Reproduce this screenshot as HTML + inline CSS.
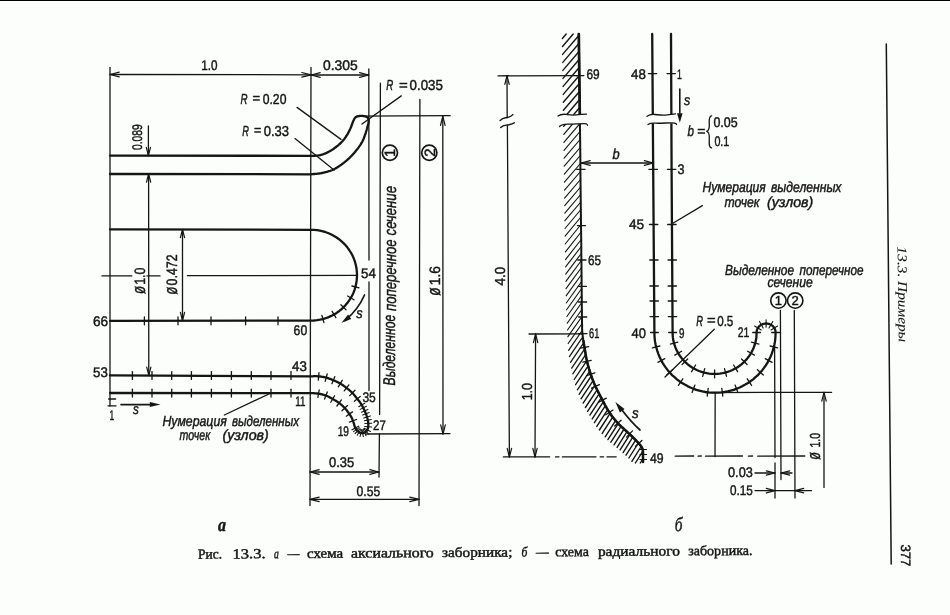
<!DOCTYPE html>
<html lang="ru"><head><meta charset="utf-8"><title>Рис. 13.3</title>
<style>
html,body{margin:0;padding:0;background:#fcfefb;}
body{width:950px;height:615px;overflow:hidden;position:relative;}
#top{position:absolute;left:0;top:0;width:950px;height:1px;background:#000;}
#top2{position:absolute;left:0;top:1px;width:950px;height:1px;background:#fff;}
svg{position:absolute;left:0;top:0;text-rendering:geometricPrecision;will-change:transform;}
svg line,svg path,svg circle{stroke:#151515;fill:none;stroke-linecap:round;stroke-linejoin:round;}
text{fill:#151515;stroke:#151515;stroke-width:0.45px;font-family:"Liberation Sans","DejaVu Sans",sans-serif;}
.i{font-style:italic;}
.bi{font-style:italic;font-weight:bold;}
.s{font-family:"Liberation Serif","DejaVu Serif",serif;}
text.thin{stroke-width:0.1px;}
.sbi{font-family:"Liberation Serif","DejaVu Serif",serif;font-style:italic;font-weight:bold;}
.si{font-family:"Liberation Serif","DejaVu Serif",serif;font-style:italic;}
</style></head><body>
<div id="top"></div><div id="top2"></div>
<svg width="950" height="615" viewBox="0 0 950 615">
<line x1="110" y1="67.5" x2="110" y2="406" stroke-width="1.3"/>
<line x1="311" y1="67.5" x2="310" y2="505.6" stroke-width="1.3"/>
<line x1="368.8" y1="69" x2="369" y2="260" stroke-width="1.3"/>
<line x1="369" y1="282" x2="369" y2="390.5" stroke-width="1.3"/>
<line x1="380.4" y1="83.2" x2="379.6" y2="414.5" stroke-width="1.3"/>
<line x1="379.4" y1="434" x2="379" y2="477" stroke-width="1.3"/>
<line x1="419.9" y1="99.3" x2="419" y2="505.6" stroke-width="1.3"/>
<line x1="442.8" y1="116.2" x2="443" y2="434" stroke-width="1.3"/>
<path d="M445.1 125.4 L442.8 116.2 L440.5 125.4" stroke-width="1.2"/>
<path d="M440.7 424.8 L443 434 L445.3 424.8" stroke-width="1.2"/>
<line x1="357" y1="116.2" x2="450.2" y2="115.7" stroke-width="1.3"/>
<line x1="366" y1="434" x2="450" y2="433.6" stroke-width="1.3"/>
<line x1="110" y1="74.5" x2="311" y2="74.8" stroke-width="1.3"/>
<path d="M119.2 72.2 L110 74.5 L119.2 76.8" stroke-width="1.2"/>
<path d="M301.8 77.1 L311 74.8 L301.8 72.5" stroke-width="1.2"/>
<line x1="311" y1="75" x2="368.8" y2="75" stroke-width="1.3"/>
<path d="M320.2 72.7 L311 75 L320.2 77.3" stroke-width="1.2"/>
<path d="M359.6 77.3 L368.8 75 L359.6 72.7" stroke-width="1.2"/>
<line x1="148.4" y1="126" x2="148.4" y2="155.6" stroke-width="1.3"/>
<path d="M146.3 147.4 L148.4 155.6 L150.5 147.4" stroke-width="1.2"/>
<line x1="148.6" y1="174" x2="148.8" y2="375.4" stroke-width="1.3"/>
<path d="M150.7 182.2 L148.6 174 L146.5 182.2" stroke-width="1.2"/>
<path d="M146.7 367.2 L148.8 375.4 L150.9 367.2" stroke-width="1.2"/>
<line x1="182.5" y1="229.5" x2="182.5" y2="320.6" stroke-width="1.3"/>
<path d="M184.6 237.7 L182.5 229.5 L180.4 237.7" stroke-width="1.2"/>
<path d="M180.4 312.4 L182.5 320.6 L184.6 312.4" stroke-width="1.2"/>
<line x1="102" y1="275.9" x2="131.8" y2="275.9" stroke-width="1.3"/>
<line x1="147" y1="275.9" x2="160" y2="275.9" stroke-width="1.3"/>
<line x1="187.4" y1="275.7" x2="357" y2="275.4" stroke-width="1.3"/>
<line x1="310" y1="472" x2="379" y2="472" stroke-width="1.3"/>
<path d="M319.2 469.7 L310 472 L319.2 474.3" stroke-width="1.2"/>
<path d="M369.8 474.3 L379 472 L369.8 469.7" stroke-width="1.2"/>
<line x1="310" y1="499.4" x2="419" y2="499.4" stroke-width="1.3"/>
<path d="M319.2 497.1 L310 499.4 L319.2 501.7" stroke-width="1.2"/>
<path d="M409.8 501.7 L419 499.4 L409.8 497.1" stroke-width="1.2"/>
<line x1="401.3" y1="95.9" x2="362" y2="124" stroke-width="1.3"/>
<line x1="297" y1="107.4" x2="341" y2="139.4" stroke-width="1.3"/>
<line x1="295" y1="138.6" x2="334" y2="170" stroke-width="1.3"/>
<line x1="224.4" y1="415" x2="271" y2="393" stroke-width="1.3"/>
<path d="M110 155.6 L311 155.8 L311.4 155.8 L311.9 155.8 L312.3 155.8 L312.7 155.8 L313.2 155.8 L313.6 155.8 L314 155.8 L314.5 155.8 L314.9 155.8 L315.3 155.7 L315.8 155.7 L316.2 155.7 L316.7 155.7 L317.1 155.6 L317.6 155.6 L318 155.5 L318.4 155.4 L318.9 155.3 L319.3 155.3 L319.8 155.2 L320.2 155.1 L320.7 155 L321.1 154.9 L321.6 154.7 L322.1 154.6 L322.5 154.5 L323 154.3 L323.5 154.2 L323.9 154 L324.4 153.8 L324.9 153.6 L325.4 153.4 L325.9 153.2 L326.4 152.9 L326.9 152.7 L327.5 152.4 L328 152.1 L328.6 151.8 L329.1 151.5 L329.7 151.2 L330.2 150.9 L330.8 150.6 L331.3 150.3 L331.9 149.9 L332.4 149.6 L333 149.2 L333.5 148.9 L334 148.5 L334.5 148.1 L335 147.7 L335.6 147.4 L336.1 147 L336.6 146.5 L337.1 146.1 L337.7 145.7 L338.2 145.3 L338.7 144.8 L339.2 144.4 L339.7 144 L340.1 143.5 L340.6 143.1 L341.1 142.7 L341.5 142.2 L341.9 141.8 L342.3 141.4 L342.7 141 L343 140.5 L343.4 140.1 L343.7 139.7 L344.1 139.3 L344.4 138.9 L344.7 138.4 L345 138 L345.3 137.6 L345.6 137.2 L345.9 136.7 L346.2 136.3 L346.4 135.9 L346.7 135.4 L347 135 L347.3 134.6 L347.5 134.1 L347.8 133.7 L348 133.2 L348.3 132.8 L348.5 132.3 L348.8 131.9 L349 131.4 L349.2 130.9 L349.5 130.5 L349.7 130 L349.9 129.6 L350.1 129.1 L350.3 128.7 L350.5 128.2 L350.7 127.8 L350.9 127.4 L351.1 126.9 L351.3 126.5 L351.4 126 L351.6 125.5 L351.8 125.1 L351.9 124.6 L352.1 124.2 L352.2 123.7 L352.4 123.3 L352.5 122.9 L352.7 122.5 L352.8 122.1 L353 121.7 L353.1 121.3 L353.3 121 L353.4 120.7 L353.6 120.4 L353.7 120.1 L353.9 119.8 L354 119.5 L354.1 119.3 L354.2 119 L354.4 118.8 L354.5 118.6 L354.6 118.4 L354.8 118.2 L354.9 118 L355.1 117.8 L355.2 117.6 L355.4 117.5 L355.6 117.3 L355.8 117.1 L356 117 L356.2 116.9 L356.4 116.8 L356.7 116.7 L356.9 116.6 L357.2 116.5 L357.4 116.4 L357.7 116.3 L357.9 116.3 L358.2 116.2 L358.5 116.2 L358.7 116.1 L359 116.1 L359.3 116 L359.6 116 L359.9 116 L360.2 115.9 L360.6 115.9 L360.9 115.9 L361.3 115.9 L361.6 115.9 L362 115.9 L362.3 115.9 L362.7 116 L363.1 116 L363.4 116 L363.8 116.1 L364.1 116.1 L364.4 116.2 L364.7 116.2 L365 116.3 L365.3 116.4 L365.5 116.5 L365.8 116.6 L366 116.7 L366.3 116.8 L366.5 116.9 L366.8 117.1 L367 117.2 L367.2 117.3 L367.4 117.5 L367.6 117.7 L367.7 117.8 L367.9 118 L368 118.1 L368.2 118.3 L368.3 118.5 L368.4 118.7 L368.5 118.9 L368.6 119 L368.6 119.2 L368.7 119.4 L368.7 119.6 L368.7 119.8 L368.7 120 L368.7 120.2 L368.7 120.5 L368.7 120.7 L368.7 120.9 L368.7 121.2 L368.7 121.4 L368.6 121.7 L368.6 122 L368.6 122.3 L368.5 122.6 L368.5 122.9 L368.4 123.3 L368.3 123.6 L368.2 123.9 L368.1 124.3 L368.1 124.7 L368 125 L367.9 125.4 L367.8 125.8 L367.6 126.2 L367.5 126.6 L367.4 127 L367.3 127.4 L367.2 127.8 L367.1 128.2 L367 128.6 L366.8 129.1 L366.7 129.5 L366.6 130 L366.5 130.4 L366.3 130.9 L366.2 131.3 L366 131.8 L365.9 132.3 L365.8 132.7 L365.6 133.2 L365.5 133.7 L365.3 134.1 L365.2 134.6 L365 135 L364.8 135.4 L364.7 135.9 L364.5 136.3 L364.4 136.7 L364.2 137.1 L364.1 137.5 L363.9 138 L363.8 138.4 L363.6 138.8 L363.5 139.2 L363.3 139.6 L363.1 140 L362.9 140.5 L362.7 140.9 L362.4 141.4 L362.2 141.8 L361.9 142.3 L361.7 142.7 L361.4 143.2 L361.1 143.7 L360.8 144.2 L360.5 144.6 L360.2 145.1 L359.8 145.6 L359.5 146.1 L359.1 146.6 L358.8 147.1 L358.4 147.6 L358.1 148.1 L357.7 148.6 L357.4 149 L357 149.5 L356.6 150 L356.3 150.4 L355.9 150.9 L355.5 151.3 L355.2 151.8 L354.8 152.2 L354.4 152.7 L354 153.1 L353.6 153.6 L353.2 154 L352.8 154.5 L352.4 154.9 L352 155.4 L351.6 155.8 L351.1 156.3 L350.7 156.7 L350.2 157.1 L349.8 157.6 L349.3 158.1 L348.8 158.5 L348.3 159 L347.8 159.4 L347.3 159.9 L346.8 160.3 L346.3 160.8 L345.8 161.2 L345.2 161.7 L344.7 162.1 L344.1 162.5 L343.6 163 L343.1 163.4 L342.5 163.8 L341.9 164.2 L341.4 164.6 L340.8 165 L340.3 165.4 L339.7 165.8 L339.1 166.2 L338.5 166.6 L337.9 167 L337.3 167.4 L336.7 167.7 L336.1 168.1 L335.5 168.4 L334.9 168.8 L334.3 169.1 L333.6 169.4 L333 169.7 L332.4 170 L331.7 170.3 L331 170.5 L330.4 170.8 L329.7 171 L329 171.2 L328.3 171.4 L327.6 171.6 L326.9 171.8 L326.2 172 L325.5 172.2 L324.8 172.4 L324.1 172.5 L323.4 172.7 L322.7 172.9 L322 173 L321.3 173.1 L320.6 173.3 L319.9 173.4 L319.2 173.5 L318.6 173.6 L317.9 173.6 L317.2 173.7 L316.5 173.8 L315.8 173.8 L315.1 173.9 L314.4 174 L313.8 174 L313.1 174.1 L312.4 174.2 L311.7 174.2 L311 174.3 L110 174" stroke-width="2.3"/>
<path d="M110 229.3 L311 229.8 L314 229.9 L317 230.2 L320 230.7 L322.9 231.3 L325.8 232.2 L328.6 233.3 L331.3 234.5 L334 235.9 L336.6 237.5 L339 239.2 L341.3 241.1 L343.5 243.1 L345.6 245.3 L347.5 247.6 L349.2 250 L350.8 252.5 L352.3 255.1 L353.5 257.8 L354.6 260.6 L355.4 263.4 L356.1 266.3 L356.6 269.3 L356.9 272.2 L357 275.2 L356.9 278.2 L356.6 281.1 L356.1 284.1 L355.4 287 L354.6 289.8 L353.5 292.6 L352.3 295.3 L350.8 297.9 L349.2 300.4 L347.5 302.8 L345.6 305.1 L343.5 307.3 L341.3 309.3 L339 311.2 L336.6 312.9 L334 314.5 L331.3 315.9 L328.6 317.1 L325.8 318.2 L322.9 319.1 L320 319.7 L317 320.2 L314 320.5 L311 320.6 L110 320.8" stroke-width="2.3"/>
<line x1="144.4" y1="316.9" x2="144.4" y2="324.8" stroke-width="1.3"/>
<line x1="178" y1="316.9" x2="178" y2="324.8" stroke-width="1.3"/>
<line x1="211" y1="316.9" x2="211" y2="324.8" stroke-width="1.3"/>
<line x1="245.6" y1="316.9" x2="245.6" y2="324.8" stroke-width="1.3"/>
<line x1="278" y1="316.9" x2="278" y2="324.8" stroke-width="1.3"/>
<line x1="321.9" y1="315.5" x2="323.9" y2="322.6" stroke-width="1.3"/>
<line x1="332.1" y1="311.3" x2="335.9" y2="317.7" stroke-width="1.3"/>
<line x1="340.9" y1="304.7" x2="346.1" y2="309.9" stroke-width="1.3"/>
<line x1="347.6" y1="296" x2="354" y2="299.8" stroke-width="1.3"/>
<line x1="351.9" y1="286" x2="359" y2="287.9" stroke-width="1.3"/>
<path d="M364.5 295 Q358 310 345 320.5" stroke-width="1.7"/>
<polygon points="341.6,322.8 348.1,314.5 351.3,318.9" fill="#151515" stroke="none"/>
<path d="M110 375.4 L311 376.3 L311.4 376.3 L311.9 376.3 L312.3 376.3 L312.7 376.3 L313.2 376.3 L313.6 376.2 L314 376.2 L314.4 376.2 L314.9 376.2 L315.3 376.2 L315.7 376.2 L316.2 376.2 L316.6 376.2 L317.1 376.2 L317.5 376.3 L318 376.3 L318.5 376.3 L318.9 376.4 L319.4 376.4 L319.9 376.5 L320.4 376.5 L320.9 376.6 L321.4 376.7 L321.9 376.8 L322.4 376.8 L322.9 376.9 L323.4 377 L323.9 377.1 L324.5 377.2 L325 377.3 L325.5 377.5 L326 377.6 L326.5 377.7 L327.1 377.9 L327.6 378.1 L328.1 378.2 L328.7 378.4 L329.2 378.6 L329.8 378.8 L330.3 379 L330.9 379.2 L331.4 379.4 L332 379.7 L332.5 379.9 L333 380.1 L333.5 380.3 L334 380.5 L334.5 380.7 L335 380.9 L335.4 381.1 L335.8 381.3 L336.3 381.5 L336.7 381.7 L337.1 381.9 L337.5 382.1 L337.9 382.3 L338.3 382.5 L338.7 382.7 L339.1 382.9 L339.5 383.1 L339.8 383.3 L340.2 383.5 L340.6 383.8 L341 384 L341.4 384.2 L341.8 384.5 L342.2 384.7 L342.5 385 L342.9 385.3 L343.3 385.5 L343.7 385.8 L344.1 386.1 L344.4 386.3 L344.8 386.6 L345.2 386.9 L345.5 387.2 L345.9 387.5 L346.3 387.7 L346.6 388 L347 388.3 L347.4 388.6 L347.7 388.9 L348.1 389.2 L348.4 389.4 L348.8 389.7 L349.2 390 L349.5 390.3 L349.9 390.6 L350.2 390.9 L350.6 391.2 L350.9 391.5 L351.2 391.8 L351.6 392.1 L351.9 392.4 L352.2 392.7 L352.5 393 L352.8 393.3 L353.1 393.6 L353.4 393.9 L353.6 394.2 L353.9 394.5 L354.1 394.9 L354.4 395.2 L354.6 395.5 L354.9 395.8 L355.1 396.1 L355.4 396.4 L355.6 396.7 L355.9 397.1 L356.1 397.4 L356.4 397.7 L356.6 398 L356.9 398.3 L357.1 398.6 L357.4 398.9 L357.6 399.2 L357.9 399.6 L358.1 399.9 L358.4 400.2 L358.6 400.5 L358.9 400.8 L359.1 401.1 L359.4 401.4 L359.6 401.7 L359.8 402 L360.1 402.4 L360.3 402.7 L360.5 403 L360.7 403.3 L360.9 403.6 L361.1 404 L361.3 404.3 L361.5 404.6 L361.7 404.9 L361.9 405.3 L362.1 405.6 L362.3 405.9 L362.5 406.3 L362.6 406.6 L362.8 406.9 L363 407.3 L363.2 407.6 L363.3 408 L363.5 408.3 L363.7 408.6 L363.8 409 L364 409.3 L364.2 409.7 L364.3 410.1 L364.5 410.4 L364.7 410.8 L364.8 411.1 L365 411.5 L365.1 411.9 L365.3 412.2 L365.4 412.6 L365.6 412.9 L365.7 413.3 L365.9 413.7 L366 414 L366.1 414.3 L366.3 414.7 L366.4 415 L366.5 415.4 L366.6 415.7 L366.7 416.1 L366.9 416.4 L367 416.7 L367.1 417.1 L367.2 417.4 L367.3 417.7 L367.4 418.1 L367.5 418.4 L367.5 418.7 L367.6 419.1 L367.7 419.4 L367.8 419.7 L367.8 420.1 L367.9 420.4 L368 420.7 L368 421 L368.1 421.4 L368.1 421.7 L368.1 422 L368.2 422.3 L368.2 422.6 L368.2 423 L368.3 423.3 L368.3 423.6 L368.3 423.9 L368.3 424.2 L368.3 424.5 L368.3 424.8 L368.3 425.1 L368.3 425.4 L368.3 425.7 L368.3 426 L368.2 426.3 L368.2 426.6 L368.2 426.9 L368.1 427.2 L368.1 427.4 L368 427.7 L368 428 L367.9 428.3 L367.9 428.5 L367.8 428.8 L367.7 429 L367.6 429.2 L367.5 429.5 L367.4 429.7 L367.3 429.9 L367.2 430.1 L367.1 430.3 L366.9 430.5 L366.8 430.7 L366.7 430.9 L366.5 431.1 L366.4 431.2 L366.2 431.4 L366 431.6 L365.9 431.7 L365.7 431.9 L365.5 432 L365.3 432.1 L365.1 432.3 L364.9 432.4 L364.6 432.5 L364.4 432.6 L364.1 432.7 L363.8 432.8 L363.6 432.9 L363.3 433 L363 433 L362.8 433.1 L362.5 433.1 L362.2 433.2 L362 433.2 L361.7 433.2 L361.5 433.2 L361.3 433.2 L361 433.1 L360.8 433.1 L360.6 433 L360.3 433 L360.1 432.9 L359.9 432.8 L359.7 432.7 L359.5 432.5 L359.2 432.4 L359 432.3 L358.8 432.1 L358.6 432 L358.4 431.8 L358.2 431.7 L358 431.5 L357.8 431.3 L357.6 431.1 L357.4 430.9 L357.2 430.7 L357 430.5 L356.8 430.3 L356.7 430 L356.5 429.8 L356.3 429.5 L356.1 429.3 L356 429 L355.8 428.8 L355.6 428.5 L355.5 428.2 L355.3 428 L355.2 427.7 L355.1 427.4 L355 427.2 L354.8 426.9 L354.7 426.6 L354.6 426.3 L354.6 426 L354.5 425.7 L354.4 425.4 L354.3 425.1 L354.2 424.8 L354.2 424.5 L354.1 424.2 L354 423.9 L353.9 423.6 L353.8 423.3 L353.7 423 L353.6 422.7 L353.5 422.4 L353.4 422.1 L353.3 421.8 L353.2 421.4 L353.1 421.1 L352.9 420.8 L352.8 420.5 L352.7 420.2 L352.6 419.9 L352.5 419.5 L352.3 419.2 L352.2 418.9 L352.1 418.6 L351.9 418.3 L351.8 418 L351.7 417.7 L351.5 417.4 L351.3 417.1 L351.2 416.8 L351 416.6 L350.8 416.3 L350.7 416 L350.5 415.7 L350.3 415.4 L350.1 415.2 L349.9 414.9 L349.8 414.6 L349.6 414.3 L349.4 414.1 L349.2 413.8 L349 413.5 L348.8 413.2 L348.6 412.9 L348.4 412.7 L348.2 412.4 L348 412.1 L347.8 411.8 L347.6 411.6 L347.4 411.3 L347.2 411 L347 410.7 L346.8 410.4 L346.6 410.2 L346.4 409.9 L346.1 409.6 L345.9 409.3 L345.6 409 L345.3 408.7 L345.1 408.4 L344.8 408.1 L344.5 407.8 L344.2 407.4 L343.9 407.1 L343.5 406.8 L343.2 406.5 L342.9 406.1 L342.6 405.8 L342.2 405.5 L341.9 405.2 L341.5 404.9 L341.2 404.6 L340.8 404.3 L340.5 404 L340.2 403.7 L339.8 403.5 L339.5 403.2 L339.1 402.9 L338.8 402.7 L338.4 402.4 L338.1 402.2 L337.7 402 L337.3 401.7 L337 401.5 L336.6 401.2 L336.2 401 L335.8 400.8 L335.4 400.5 L334.9 400.3 L334.5 400 L334 399.7 L333.6 399.5 L333.1 399.2 L332.5 398.9 L332 398.6 L331.5 398.3 L330.9 398 L330.4 397.7 L329.8 397.4 L329.3 397.1 L328.7 396.8 L328.1 396.5 L327.6 396.3 L327.1 396 L326.5 395.8 L326 395.6 L325.5 395.4 L325 395.2 L324.5 395.1 L323.9 394.9 L323.4 394.7 L322.9 394.6 L322.4 394.5 L321.9 394.4 L321.4 394.2 L320.9 394.1 L320.4 394 L319.9 393.9 L319.4 393.8 L318.9 393.8 L318.5 393.7 L318 393.6 L317.5 393.5 L317.1 393.5 L316.6 393.4 L316.2 393.4 L315.7 393.3 L315.3 393.3 L314.9 393.3 L314.4 393.3 L314 393.2 L313.6 393.2 L313.2 393.2 L312.7 393.2 L312.3 393.2 L311.9 393.2 L311.4 393.1 L311 393.1 L110 393" stroke-width="2.3"/>
<line x1="132.4" y1="371.6" x2="132.4" y2="379.4" stroke-width="1.3"/>
<line x1="132.4" y1="389.2" x2="132.4" y2="397" stroke-width="1.3"/>
<line x1="152" y1="371.6" x2="152" y2="379.4" stroke-width="1.3"/>
<line x1="152" y1="389.2" x2="152" y2="397" stroke-width="1.3"/>
<line x1="171.7" y1="371.6" x2="171.7" y2="379.4" stroke-width="1.3"/>
<line x1="171.7" y1="389.2" x2="171.7" y2="397" stroke-width="1.3"/>
<line x1="191.4" y1="371.6" x2="191.4" y2="379.4" stroke-width="1.3"/>
<line x1="191.4" y1="389.2" x2="191.4" y2="397" stroke-width="1.3"/>
<line x1="211.4" y1="371.6" x2="211.4" y2="379.4" stroke-width="1.3"/>
<line x1="211.4" y1="389.2" x2="211.4" y2="397" stroke-width="1.3"/>
<line x1="231.4" y1="371.6" x2="231.4" y2="379.4" stroke-width="1.3"/>
<line x1="231.4" y1="389.2" x2="231.4" y2="397" stroke-width="1.3"/>
<line x1="251.3" y1="371.6" x2="251.3" y2="379.4" stroke-width="1.3"/>
<line x1="251.3" y1="389.2" x2="251.3" y2="397" stroke-width="1.3"/>
<line x1="271" y1="371.6" x2="271" y2="379.4" stroke-width="1.3"/>
<line x1="271" y1="389.2" x2="271" y2="397" stroke-width="1.3"/>
<line x1="291" y1="371.6" x2="291" y2="379.4" stroke-width="1.3"/>
<line x1="291" y1="389.2" x2="291" y2="397" stroke-width="1.3"/>
<line x1="319" y1="372.6" x2="318.3" y2="380.1" stroke-width="1.3"/>
<line x1="327.2" y1="374" x2="325.2" y2="381.3" stroke-width="1.3"/>
<line x1="334.8" y1="376.7" x2="331.9" y2="383.7" stroke-width="1.3"/>
<line x1="342.2" y1="380.3" x2="338.3" y2="386.8" stroke-width="1.3"/>
<line x1="348.9" y1="384.9" x2="344.2" y2="390.9" stroke-width="1.3"/>
<line x1="355" y1="390.2" x2="349.7" y2="395.6" stroke-width="1.3"/>
<line x1="360.2" y1="396.4" x2="354.3" y2="401.2" stroke-width="1.3"/>
<line x1="364.7" y1="403.2" x2="358.7" y2="406.7" stroke-width="1.05"/>
<line x1="366.4" y1="406.3" x2="360.2" y2="409.4" stroke-width="1.05"/>
<line x1="367.9" y1="409.4" x2="361.5" y2="412.2" stroke-width="1.05"/>
<line x1="369.2" y1="412.6" x2="362.7" y2="415.1" stroke-width="1.05"/>
<line x1="370.4" y1="415.9" x2="363.7" y2="418" stroke-width="1.05"/>
<line x1="371.3" y1="419.5" x2="364.4" y2="420.8" stroke-width="1.05"/>
<line x1="371.8" y1="423.3" x2="364.8" y2="423.6" stroke-width="1.05"/>
<line x1="371.7" y1="427.1" x2="364.7" y2="426.4" stroke-width="1.05"/>
<line x1="370.4" y1="431.5" x2="364.2" y2="428.3" stroke-width="1.05"/>
<line x1="368.6" y1="434" x2="363.8" y2="428.9" stroke-width="1.05"/>
<line x1="366" y1="435.7" x2="363.1" y2="429.3" stroke-width="1.05"/>
<line x1="363.3" y1="436.6" x2="362.1" y2="429.7" stroke-width="1.05"/>
<line x1="360.1" y1="436.5" x2="361.6" y2="429.7" stroke-width="1.05"/>
<line x1="357.2" y1="435.3" x2="360.9" y2="429.3" stroke-width="1.05"/>
<line x1="355.1" y1="433.5" x2="360.1" y2="428.7" stroke-width="1.05"/>
<line x1="353.5" y1="431.6" x2="359.2" y2="427.6" stroke-width="1.05"/>
<line x1="352" y1="429.8" x2="358.7" y2="426.2" stroke-width="1.3"/>
<line x1="349.4" y1="422.1" x2="356.5" y2="419.5" stroke-width="1.3"/>
<line x1="346.3" y1="416.2" x2="352.5" y2="411.9" stroke-width="1.3"/>
<line x1="342" y1="410.7" x2="347.5" y2="405.5" stroke-width="1.3"/>
<line x1="336.9" y1="406" x2="341.4" y2="399.9" stroke-width="1.3"/>
<line x1="330.8" y1="402.3" x2="334.6" y2="395.7" stroke-width="1.3"/>
<line x1="324.6" y1="399.1" x2="327.3" y2="392" stroke-width="1.3"/>
<line x1="317.9" y1="397.4" x2="319.2" y2="390" stroke-width="1.3"/>
<line x1="108.6" y1="399" x2="115.6" y2="399" stroke-width="1.3"/>
<line x1="108" y1="405.8" x2="116" y2="405.8" stroke-width="1.3"/>
<line x1="121" y1="404.6" x2="152" y2="404.6" stroke-width="1.6"/>
<polygon points="160.5,404.6 149.8,407.1 149.8,402.1" fill="#151515" stroke="none"/>
<circle cx="389.9" cy="152.8" r="7.6" stroke-width="1.7"/>
<circle cx="429.3" cy="152.7" r="7.6" stroke-width="1.7"/>
<line x1="566.2" y1="34" x2="562.4" y2="38.5" stroke-width="1.4"/>
<line x1="573.2" y1="34" x2="562.5" y2="46.5" stroke-width="1.4"/>
<line x1="578.8" y1="35.5" x2="562.6" y2="54.4" stroke-width="1.4"/>
<line x1="578.9" y1="43.5" x2="562.8" y2="62.4" stroke-width="1.4"/>
<line x1="579" y1="51.5" x2="562.9" y2="70.4" stroke-width="1.4"/>
<line x1="579.1" y1="59.5" x2="563" y2="78.4" stroke-width="1.4"/>
<line x1="579.2" y1="67.5" x2="563.1" y2="86.4" stroke-width="1.4"/>
<line x1="579.3" y1="75.5" x2="563.2" y2="94.4" stroke-width="1.4"/>
<line x1="579.4" y1="83.5" x2="563.3" y2="102.3" stroke-width="1.4"/>
<line x1="579.5" y1="91.5" x2="563.4" y2="110.3" stroke-width="1.4"/>
<line x1="579.6" y1="99.5" x2="566.8" y2="114.5" stroke-width="1.4"/>
<line x1="579.7" y1="107.5" x2="573.7" y2="114.5" stroke-width="1.3300553238025405"/>
<line x1="565.4" y1="124.3" x2="563.7" y2="126.3" stroke-width="1.3300553238025405"/>
<line x1="572.3" y1="124.3" x2="563.8" y2="134.3" stroke-width="1.2553940941457682"/>
<line x1="579.2" y1="124.3" x2="563.9" y2="142.3" stroke-width="1.1807326479091038"/>
<line x1="580" y1="131.5" x2="564" y2="150.3" stroke-width="1.12"/>
<line x1="580.1" y1="139.5" x2="564.1" y2="158.2" stroke-width="1.12"/>
<line x1="580.2" y1="147.5" x2="564.2" y2="166.2" stroke-width="1.12"/>
<line x1="580.3" y1="155.5" x2="564.3" y2="174.2" stroke-width="1.12"/>
<line x1="580.4" y1="163.5" x2="564.4" y2="182.2" stroke-width="1.12"/>
<line x1="580.5" y1="171.5" x2="564.5" y2="190.2" stroke-width="1.12"/>
<line x1="580.5" y1="179.5" x2="564.6" y2="198.2" stroke-width="1.12"/>
<line x1="580.6" y1="187" x2="564.7" y2="205.6" stroke-width="1.12"/>
<line x1="580.7" y1="194.5" x2="564.8" y2="213.1" stroke-width="1.12"/>
<line x1="580.8" y1="202" x2="564.9" y2="220.7" stroke-width="1.12"/>
<line x1="580.9" y1="209.5" x2="565" y2="228.5" stroke-width="1.12"/>
<line x1="580.9" y1="217" x2="565.1" y2="236.2" stroke-width="1.12"/>
<line x1="581" y1="224.5" x2="565.2" y2="244" stroke-width="1.12"/>
<line x1="581.1" y1="232" x2="565.4" y2="251.8" stroke-width="1.12"/>
<line x1="581.2" y1="239.5" x2="565.5" y2="259.6" stroke-width="1.12"/>
<line x1="581.3" y1="246.5" x2="565.6" y2="266.8" stroke-width="1.12"/>
<line x1="581.3" y1="253.5" x2="565.7" y2="274.1" stroke-width="1.12"/>
<line x1="581.4" y1="260.5" x2="565.9" y2="281.3" stroke-width="1.12"/>
<line x1="581.5" y1="267.5" x2="566" y2="288.6" stroke-width="1.12"/>
<line x1="581.5" y1="274.5" x2="566.1" y2="295.9" stroke-width="1.12"/>
<line x1="581.6" y1="281.5" x2="566.3" y2="303" stroke-width="1.12"/>
<line x1="581.7" y1="288.5" x2="566.6" y2="309.8" stroke-width="1.12"/>
<line x1="581.7" y1="295.5" x2="566.9" y2="316.5" stroke-width="1.12"/>
<line x1="581.8" y1="302.5" x2="567.2" y2="323.3" stroke-width="1.1277249631328334"/>
<line x1="581.9" y1="309.5" x2="567.5" y2="330" stroke-width="1.149501716283029"/>
<line x1="582" y1="316.5" x2="567.9" y2="336.7" stroke-width="1.1712780623282022"/>
<line x1="582.1" y1="323.5" x2="568.2" y2="343.5" stroke-width="1.1930536839853767"/>
<line x1="582.2" y1="330.5" x2="568.6" y2="350.3" stroke-width="1.214826388221566"/>
<line x1="582.8" y1="336.9" x2="569.4" y2="356.6" stroke-width="1.234948023425111"/>
<line x1="583.7" y1="342.9" x2="570.5" y2="362.3" stroke-width="1.2533993030767954"/>
<line x1="584.7" y1="348.8" x2="571.7" y2="368.1" stroke-width="1.2718069865780346"/>
<line x1="585.7" y1="354.7" x2="572.8" y2="373.8" stroke-width="1.290221269365194"/>
<line x1="586.9" y1="360.6" x2="574.2" y2="379.5" stroke-width="1.3085382522073332"/>
<line x1="588.2" y1="365.9" x2="575.6" y2="384.7" stroke-width="1.325144191651633"/>
<line x1="589.7" y1="371.2" x2="577.4" y2="389.8" stroke-width="1.3415687954279347"/>
<line x1="591.3" y1="376" x2="579.1" y2="394.3" stroke-width="1.3563304999200532"/>
<line x1="593.1" y1="380.6" x2="581" y2="398.8" stroke-width="1.3709069157510008"/>
<line x1="595" y1="385.3" x2="583.1" y2="403.2" stroke-width="1.3852468687878337"/>
<line x1="597.1" y1="389.8" x2="585.4" y2="407.5" stroke-width="1.3993400037049517"/>
<line x1="599.1" y1="393.8" x2="587.6" y2="411.3" stroke-width="1.4"/>
<line x1="601.2" y1="397.8" x2="589.9" y2="415.1" stroke-width="1.4"/>
<line x1="603.3" y1="401.8" x2="592.2" y2="418.9" stroke-width="1.4"/>
<line x1="605.4" y1="405.7" x2="594.4" y2="422.7" stroke-width="1.4"/>
<line x1="607.7" y1="409.7" x2="596.8" y2="426.4" stroke-width="1.4"/>
<line x1="610.1" y1="413.4" x2="599.4" y2="430" stroke-width="1.4"/>
<line x1="612.7" y1="417.1" x2="602.2" y2="433.4" stroke-width="1.4"/>
<line x1="615.6" y1="420.6" x2="605.2" y2="436.8" stroke-width="1.4"/>
<line x1="618.2" y1="423.6" x2="607.9" y2="439.6" stroke-width="1.4"/>
<line x1="621.1" y1="426.4" x2="610.9" y2="442.2" stroke-width="1.4"/>
<line x1="624.1" y1="429" x2="614" y2="444.8" stroke-width="1.4"/>
<line x1="627" y1="431.7" x2="617.1" y2="447.3" stroke-width="1.4"/>
<line x1="630" y1="434.4" x2="620.1" y2="449.9" stroke-width="1.4"/>
<line x1="632.8" y1="437.2" x2="623.1" y2="452.6" stroke-width="1.4"/>
<line x1="635.7" y1="440.1" x2="626" y2="455.2" stroke-width="1.4"/>
<line x1="638.4" y1="443" x2="628.9" y2="458" stroke-width="1.4"/>
<line x1="641.2" y1="446.5" x2="631.9" y2="461.3" stroke-width="1.4"/>
<line x1="642.9" y1="451.1" x2="635.4" y2="463" stroke-width="1.4"/>
<line x1="643" y1="458.6" x2="640.3" y2="463" stroke-width="1.4"/>
<path d="M578.8 34 L578.9 39.9 L578.9 45.8 L579 51.5 L579.1 57.2 L579.2 62.9 L579.2 68.5 L579.3 74.2 L579.4 79.9 L579.5 85.6 L579.5 91.5 L579.6 97.5 L579.7 103.6 L579.8 109.9 L579.8 116.4 L579.9 123.1 L580 130 L580.1 137.3 L580.2 145.1 L580.3 153.3 L580.4 161.8 L580.4 170.5 L580.5 179.3 L580.6 188.3 L580.7 197.2 L580.8 206.1 L580.9 214.9 L581 223.4 L581.1 231.6 L581.2 239.5 L581.3 246.9 L581.3 253.7 L581.4 260 L581.5 265.8 L581.5 271.2 L581.6 276.2 L581.6 281 L581.6 285.5 L581.7 289.6 L581.7 293.6 L581.8 297.2 L581.8 300.7 L581.8 303.9 L581.8 307 L581.9 309.9 L581.9 312.6 L581.9 315.2 L582 317.6 L582 320 L582 322.1 L582.1 324 L582.1 325.5 L582.1 326.7 L582.1 327.8 L582.1 328.6 L582.1 329.3 L582.2 329.9 L582.2 330.4 L582.2 330.8 L582.2 331.2 L582.3 331.6 L582.3 332.1 L582.4 332.6 L582.4 333.2 L582.5 334 L582.6 334.9 L582.7 335.7 L582.8 336.5 L582.9 337.4 L583 338.2 L583.1 339.1 L583.2 339.9 L583.4 340.7 L583.5 341.5 L583.6 342.4 L583.8 343.2 L583.9 344 L584.1 344.9 L584.2 345.7 L584.4 346.6 L584.5 347.4 L584.6 348.3 L584.8 349.1 L584.9 350 L585.1 350.8 L585.2 351.7 L585.3 352.6 L585.5 353.5 L585.6 354.3 L585.8 355.2 L586 356.1 L586.1 356.9 L586.3 357.8 L586.4 358.7 L586.6 359.5 L586.8 360.4 L587 361.2 L587.2 362 L587.4 362.9 L587.6 363.7 L587.8 364.5 L588 365.3 L588.3 366.2 L588.5 367 L588.7 367.8 L588.9 368.6 L589.2 369.4 L589.4 370.2 L589.7 371 L589.9 371.8 L590.2 372.6 L590.4 373.4 L590.7 374.2 L591 375 L591.2 375.8 L591.5 376.5 L591.8 377.3 L592 378 L592.3 378.8 L592.6 379.5 L592.9 380.2 L593.2 381 L593.5 381.7 L593.8 382.5 L594.1 383.3 L594.4 384 L594.8 384.8 L595.1 385.6 L595.5 386.4 L595.9 387.2 L596.3 388.1 L596.7 388.9 L597.1 389.8 L597.5 390.6 L598 391.5 L598.4 392.4 L598.9 393.3 L599.3 394.2 L599.8 395.1 L600.2 396 L600.7 396.8 L601.2 397.7 L601.6 398.5 L602.1 399.4 L602.5 400.2 L602.9 401 L603.4 401.8 L603.8 402.6 L604.2 403.4 L604.6 404.2 L605 405 L605.4 405.7 L605.9 406.5 L606.3 407.2 L606.7 408 L607.1 408.7 L607.6 409.5 L608 410.2 L608.5 411 L608.9 411.7 L609.4 412.4 L609.9 413.1 L610.4 413.8 L610.9 414.5 L611.3 415.2 L611.8 415.9 L612.3 416.6 L612.8 417.2 L613.4 417.9 L613.9 418.6 L614.4 419.2 L615 419.9 L615.5 420.5 L616.1 421.2 L616.7 421.9 L617.3 422.5 L617.9 423.2 L618.5 423.9 L619.2 424.6 L619.9 425.2 L620.6 425.9 L621.4 426.6 L622.1 427.3 L622.9 428 L623.7 428.7 L624.4 429.4 L625.2 430.1 L625.9 430.7 L626.7 431.4 L627.4 432.1 L628.1 432.7 L628.8 433.4 L629.5 434 L630.2 434.6 L630.8 435.3 L631.5 435.9 L632.1 436.5 L632.7 437.1 L633.4 437.8 L634 438.4 L634.6 439 L635.2 439.6 L635.8 440.2 L636.3 440.7 L636.8 441.3 L637.3 441.8 L637.8 442.3 L638.3 442.8 L638.7 443.3 L639.1 443.7 L639.4 444.2 L639.8 444.6 L640.1 444.9 L640.4 445.3 L640.6 445.6 L640.9 445.9 L641.1 446.3 L641.3 446.6 L641.5 446.9 L641.7 447.2 L641.8 447.4 L642 447.7 L642.1 448.1 L642.3 448.4 L642.4 448.7 L642.5 449 L642.6 449.3 L642.7 449.7 L642.8 450 L642.8 450.3 L642.9 450.6 L642.9 450.9 L642.9 451.2 L642.9 451.5 L643 451.8 L643 452.1 L643 452.5 L643 452.8 L643 453.2 L643 453.6 L643 454 L643 454.4 L643 454.9 L643 455.3 L643 455.8 L643 456.3 L643 456.8 L643 457.3 L643 457.8 L643 458.4 L643 458.9 L643 459.4 L643 459.9 L643 460.5 L643 461 L643 461.5 L643 462" stroke-width="2.0"/>
<line x1="578.8" y1="34" x2="579.8" y2="115" stroke-width="2.7"/>
<path d="M583.4 340.7 L583.5 341.5 L583.6 342.4 L583.8 343.2 L583.9 344 L584.1 344.9 L584.2 345.7 L584.4 346.6 L584.5 347.4 L584.6 348.3 L584.8 349.1 L584.9 350 L585.1 350.8 L585.2 351.7 L585.3 352.6 L585.5 353.5 L585.6 354.3 L585.8 355.2 L586 356.1 L586.1 356.9 L586.3 357.8 L586.4 358.7 L586.6 359.5 L586.8 360.4 L587 361.2 L587.2 362 L587.4 362.9 L587.6 363.7 L587.8 364.5 L588 365.3 L588.3 366.2 L588.5 367 L588.7 367.8 L588.9 368.6 L589.2 369.4 L589.4 370.2 L589.7 371 L589.9 371.8 L590.2 372.6 L590.4 373.4 L590.7 374.2 L591 375 L591.2 375.8 L591.5 376.5 L591.8 377.3 L592 378 L592.3 378.8 L592.6 379.5 L592.9 380.2 L593.2 381 L593.5 381.7 L593.8 382.5 L594.1 383.3 L594.4 384 L594.8 384.8 L595.1 385.6 L595.5 386.4 L595.9 387.2 L596.3 388.1 L596.7 388.9 L597.1 389.8 L597.5 390.6 L598 391.5 L598.4 392.4 L598.9 393.3 L599.3 394.2 L599.8 395.1 L600.2 396 L600.7 396.8 L601.2 397.7 L601.6 398.5 L602.1 399.4 L602.5 400.2 L602.9 401 L603.4 401.8 L603.8 402.6 L604.2 403.4 L604.6 404.2 L605 405 L605.4 405.7 L605.9 406.5 L606.3 407.2 L606.7 408 L607.1 408.7 L607.6 409.5 L608 410.2 L608.5 411 L608.9 411.7 L609.4 412.4 L609.9 413.1 L610.4 413.8 L610.9 414.5 L611.3 415.2 L611.8 415.9 L612.3 416.6 L612.8 417.2 L613.4 417.9 L613.9 418.6 L614.4 419.2 L615 419.9 L615.5 420.5 L616.1 421.2 L616.7 421.9 L617.3 422.5 L617.9 423.2 L618.5 423.9 L619.2 424.6 L619.9 425.2 L620.6 425.9 L621.4 426.6 L622.1 427.3 L622.9 428 L623.7 428.7 L624.4 429.4 L625.2 430.1 L625.9 430.7 L626.7 431.4 L627.4 432.1 L628.1 432.7 L628.8 433.4 L629.5 434 L630.2 434.6 L630.8 435.3 L631.5 435.9 L632.1 436.5 L632.7 437.1 L633.4 437.8 L634 438.4 L634.6 439 L635.2 439.6 L635.8 440.2 L636.3 440.7 L636.8 441.3 L637.3 441.8 L637.8 442.3 L638.3 442.8 L638.7 443.3 L639.1 443.7 L639.4 444.2 L639.8 444.6 L640.1 444.9 L640.4 445.3 L640.6 445.6 L640.9 445.9 L641.1 446.3 L641.3 446.6 L641.5 446.9 L641.7 447.2 L641.8 447.4 L642 447.7 L642.1 448.1 L642.3 448.4 L642.4 448.7 L642.5 449 L642.6 449.3 L642.7 449.7 L642.8 450 L642.8 450.3 L642.9 450.6 L642.9 450.9 L642.9 451.2 L642.9 451.5 L643 451.8 L643 452.1 L643 452.5 L643 452.8 L643 453.2 L643 453.6 L643 454 L643 454.4 L643 454.9 L643 455.3 L643 455.8 L643 456.3 L643 456.8 L643 457.3 L643 457.8 L643 458.4 L643 458.9 L643 459.4 L643 459.9 L643 460.5 L643 461 L643 461.5 L643 462" stroke-width="2.5"/>
<line x1="575.7" y1="75.6" x2="583.9" y2="75.6" stroke-width="1.3"/>
<line x1="576.8" y1="169.4" x2="585" y2="169.4" stroke-width="1.3"/>
<line x1="577.4" y1="225.6" x2="585.6" y2="225.6" stroke-width="1.3"/>
<line x1="577.8" y1="260" x2="586" y2="260" stroke-width="1.3"/>
<line x1="578.2" y1="286.4" x2="586.4" y2="286.4" stroke-width="1.3"/>
<line x1="578.4" y1="302" x2="586.6" y2="302" stroke-width="1.3"/>
<line x1="578.6" y1="317" x2="586.8" y2="317" stroke-width="1.3"/>
<line x1="578.8" y1="333.6" x2="587" y2="333.6" stroke-width="1.3"/>
<line x1="588.7" y1="346.7" x2="580.3" y2="348.1" stroke-width="1.3"/>
<line x1="591.2" y1="360.3" x2="582.8" y2="362.1" stroke-width="1.3"/>
<line x1="594.8" y1="372.8" x2="586.6" y2="375.6" stroke-width="1.3"/>
<line x1="599.4" y1="384.6" x2="591.6" y2="388.2" stroke-width="1.3"/>
<line x1="606.3" y1="398.2" x2="598.7" y2="402.2" stroke-width="1.3"/>
<line x1="613" y1="410" x2="605.8" y2="414.8" stroke-width="1.3"/>
<line x1="621.1" y1="420.3" x2="614.7" y2="426.1" stroke-width="1.3"/>
<line x1="632.5" y1="430.9" x2="626.5" y2="437.1" stroke-width="1.3"/>
<line x1="641.9" y1="440.4" x2="635.5" y2="446.2" stroke-width="1.3"/>
<line x1="640" y1="449.5" x2="646.5" y2="449.5" stroke-width="1.2"/>
<line x1="640" y1="454.5" x2="646.5" y2="454.5" stroke-width="1.2"/>
<line x1="640" y1="459.5" x2="646.5" y2="459.5" stroke-width="1.2"/>
<path d="M652.2 34 L653.2 170 L654.4 332.5 L654.5 335.7 L654.7 338.8 L655.1 341.9 L655.7 345 L656.5 348.1 L657.4 351.1 L658.4 354.1 L659.6 357 L661 359.8 L662.5 362.6 L664.2 365.3 L666 367.9 L667.9 370.4 L670 372.8 L672.1 375.1 L674.5 377.2 L676.9 379.3 L679.4 381.2 L682 383 L684.7 384.6 L687.5 386.1 L690.4 387.5 L693.3 388.7 L696.3 389.8 L699.3 390.6 L702.4 391.4 L705.5 392 L708.7 392.4 L711.8 392.6 L715 392.7 L718.2 392.6 L721.3 392.4 L724.5 392 L727.6 391.4 L730.7 390.6 L733.7 389.8 L736.7 388.7 L739.6 387.5 L742.5 386.1 L745.3 384.6 L748 383 L750.6 381.2 L753.1 379.3 L755.5 377.2 L757.9 375.1 L760 372.8 L762.1 370.4 L764 367.9 L765.8 365.3 L767.5 362.6 L769 359.8 L770.4 357 L771.6 354.1 L772.6 351.1 L773.5 348.1 L774.3 345 L774.9 341.9 L775.3 338.8 L775.5 335.7 L775.6 332.5 L775.5 331.3 L775.3 330.2 L774.9 329.1 L774.3 328 L773.6 327 L772.8 326.1 L771.9 325.4 L770.9 324.7 L769.7 324.2 L768.6 323.8 L767.3 323.6 L766.1 323.5 L764.9 323.6 L763.6 323.8 L762.5 324.2 L761.4 324.7 L760.3 325.4 L759.4 326.1 L758.6 327 L757.9 328 L757.3 329.1 L756.9 330.2 L756.7 331.3 L756.6 332.5 L756.5 335.1 L756.3 337.7 L755.9 340.3 L755.3 342.8 L754.5 345.3 L753.7 347.7 L752.6 350.1 L751.4 352.4 L750.1 354.7 L748.6 356.8 L747 358.9 L745.2 360.8 L743.4 362.7 L741.4 364.4 L739.3 366 L737.1 367.5 L734.8 368.8 L732.5 370 L730.1 371 L727.6 371.9 L725 372.6 L722.5 373.2 L719.9 373.6 L717.2 373.8 L714.6 373.9 L712 373.8 L709.3 373.6 L706.7 373.2 L704.2 372.6 L701.6 371.9 L699.1 371 L696.7 370 L694.4 368.8 L692.1 367.5 L689.9 366 L687.8 364.4 L685.8 362.7 L684 360.8 L682.2 358.9 L680.6 356.8 L679.1 354.7 L677.8 352.4 L676.6 350.1 L675.5 347.7 L674.7 345.3 L673.9 342.8 L673.3 340.3 L672.9 337.7 L672.7 335.1 L672.6 332.5 L671.6 170 L671 34" stroke-width="2.3"/>
<line x1="648.3" y1="73.6" x2="656.7" y2="73.6" stroke-width="1.3"/>
<line x1="667" y1="73.6" x2="675.4" y2="73.6" stroke-width="1.3"/>
<line x1="649" y1="169.4" x2="657.4" y2="169.4" stroke-width="1.3"/>
<line x1="667.4" y1="169.4" x2="675.8" y2="169.4" stroke-width="1.3"/>
<line x1="649.4" y1="224.5" x2="657.8" y2="224.5" stroke-width="1.3"/>
<line x1="667.7" y1="224.5" x2="676.1" y2="224.5" stroke-width="1.3"/>
<line x1="649.7" y1="260" x2="658.1" y2="260" stroke-width="1.3"/>
<line x1="668" y1="260" x2="676.4" y2="260" stroke-width="1.3"/>
<line x1="649.9" y1="286" x2="658.3" y2="286" stroke-width="1.3"/>
<line x1="668.1" y1="286" x2="676.5" y2="286" stroke-width="1.3"/>
<line x1="650" y1="301" x2="658.4" y2="301" stroke-width="1.3"/>
<line x1="668.2" y1="301" x2="676.6" y2="301" stroke-width="1.3"/>
<line x1="650.1" y1="316.6" x2="658.5" y2="316.6" stroke-width="1.3"/>
<line x1="668.3" y1="316.6" x2="676.7" y2="316.6" stroke-width="1.3"/>
<line x1="676.5" y1="332.5" x2="668.7" y2="332.5" stroke-width="1.3"/>
<line x1="677.8" y1="342.2" x2="670.3" y2="344.2" stroke-width="1.3"/>
<line x1="681.6" y1="351.2" x2="674.8" y2="355.1" stroke-width="1.3"/>
<line x1="687.7" y1="359" x2="682.1" y2="364.5" stroke-width="1.3"/>
<line x1="695.6" y1="365" x2="691.6" y2="371.7" stroke-width="1.3"/>
<line x1="704.7" y1="368.7" x2="702.7" y2="376.3" stroke-width="1.3"/>
<line x1="714.6" y1="370" x2="714.6" y2="377.8" stroke-width="1.3"/>
<line x1="724.5" y1="368.7" x2="726.5" y2="376.3" stroke-width="1.3"/>
<line x1="733.6" y1="365" x2="737.6" y2="371.7" stroke-width="1.3"/>
<line x1="741.5" y1="359" x2="747.1" y2="364.5" stroke-width="1.3"/>
<line x1="747.6" y1="351.2" x2="754.4" y2="355.1" stroke-width="1.3"/>
<line x1="751.4" y1="342.2" x2="758.9" y2="344.2" stroke-width="1.3"/>
<line x1="752.7" y1="332.5" x2="760.5" y2="332.5" stroke-width="1.3"/>
<line x1="658.3" y1="332.5" x2="650.5" y2="332.5" stroke-width="1.3"/>
<line x1="659.9" y1="346" x2="652.4" y2="347.8" stroke-width="1.3"/>
<line x1="664.8" y1="358.7" x2="657.9" y2="362.3" stroke-width="1.3"/>
<line x1="672.6" y1="369.8" x2="666.7" y2="375" stroke-width="1.3"/>
<line x1="682.8" y1="378.8" x2="678.4" y2="385.3" stroke-width="1.3"/>
<line x1="694.9" y1="385.1" x2="692.1" y2="392.4" stroke-width="1.3"/>
<line x1="708.2" y1="388.4" x2="707.2" y2="396.1" stroke-width="1.3"/>
<line x1="721.8" y1="388.4" x2="722.8" y2="396.1" stroke-width="1.3"/>
<line x1="735.1" y1="385.1" x2="737.9" y2="392.4" stroke-width="1.3"/>
<line x1="747.2" y1="378.8" x2="751.6" y2="385.3" stroke-width="1.3"/>
<line x1="757.4" y1="369.8" x2="763.3" y2="375" stroke-width="1.3"/>
<line x1="765.2" y1="358.7" x2="772.1" y2="362.3" stroke-width="1.3"/>
<line x1="770.1" y1="346" x2="777.6" y2="347.8" stroke-width="1.3"/>
<line x1="771.7" y1="332.5" x2="779.5" y2="332.5" stroke-width="1.3"/>
<line x1="771" y1="329.9" x2="777.6" y2="326.1" stroke-width="1.1"/>
<line x1="769" y1="328" x2="772.8" y2="321.4" stroke-width="1.1"/>
<line x1="766.1" y1="327.3" x2="766.1" y2="319.7" stroke-width="1.1"/>
<line x1="763.2" y1="328" x2="759.5" y2="321.4" stroke-width="1.1"/>
<line x1="761.2" y1="329.9" x2="754.6" y2="326.1" stroke-width="1.1"/>
<rect x="556" y="114.9" width="33" height="8.9" fill="#fcfefb" stroke="none"/>
<rect x="646" y="114.9" width="30.5" height="8.4" fill="#fcfefb" stroke="none"/>
<path d="M558 116 C560 114.6 563 114 566 114.4 S572 115.4 576 114.9 S583 114.2 586.5 114.2" stroke-width="1.3"/>
<path d="M559.5 126.5 C561 124.8 564 124.2 568 124.2 S580 123.6 584 123.6 S586.5 124 587.5 125.2" stroke-width="1.3"/>
<path d="M647 116.3 C649 114.8 652 114.2 655 114.5 S661 115.4 665 115.1 S672 114.2 675.5 113.9" stroke-width="1.3"/>
<path d="M648 124.5 C649.5 123.3 652 123 656 123.2 S668 122.8 672 122.8 S675.5 123.2 676.5 124.2" stroke-width="1.3"/>
<path d="M500.1 120.5 C503 117.6 505 118 507 117.5 S511 116.9 512.8 114.6" stroke-width="1.4"/>
<path d="M500.7 127.6 C503.5 124.7 505.5 125.4 507.5 125 S512.2 124.7 514.4 122.8" stroke-width="1.4"/>
<line x1="498" y1="75.8" x2="578" y2="75.6" stroke-width="1.3"/>
<line x1="507" y1="75.6" x2="507.2" y2="117.5" stroke-width="1.3"/>
<line x1="507.4" y1="125.3" x2="509.4" y2="457" stroke-width="1.3"/>
<path d="M509.2 84.3 L507 75.6 L504.8 84.3" stroke-width="1.2"/>
<path d="M507.2 448.3 L509.4 457 L511.6 448.3" stroke-width="1.2"/>
<line x1="529" y1="334" x2="582" y2="333.8" stroke-width="1.3"/>
<line x1="535.6" y1="334" x2="535" y2="457" stroke-width="1.3"/>
<path d="M537.8 342.7 L535.6 334 L533.4 342.7" stroke-width="1.2"/>
<path d="M532.8 448.3 L535 457 L537.2 448.3" stroke-width="1.2"/>
<line x1="581" y1="163" x2="653.5" y2="163" stroke-width="1.3"/>
<path d="M590.2 160.7 L581 163 L590.2 165.3" stroke-width="1.2"/>
<path d="M644.3 165.3 L653.5 163 L644.3 160.7" stroke-width="1.2"/>
<line x1="503.4" y1="456.9" x2="549.7" y2="456.8" stroke-width="1.3"/>
<line x1="555.6" y1="456.9" x2="559" y2="456.8" stroke-width="1.3"/>
<line x1="562.4" y1="456.9" x2="596" y2="456.8" stroke-width="1.3"/>
<line x1="600.2" y1="456.9" x2="603.6" y2="456.8" stroke-width="1.3"/>
<line x1="607" y1="456.9" x2="616.2" y2="456.8" stroke-width="1.3"/>
<line x1="675.2" y1="456.2" x2="693.7" y2="456" stroke-width="1.3"/>
<line x1="698" y1="456.2" x2="701.3" y2="456" stroke-width="1.3"/>
<line x1="705.5" y1="456.2" x2="742.5" y2="456" stroke-width="1.3"/>
<line x1="748.4" y1="456.2" x2="752.6" y2="456" stroke-width="1.3"/>
<line x1="757.7" y1="456.2" x2="804.8" y2="456" stroke-width="1.3"/>
<line x1="706" y1="392.6" x2="831.6" y2="392.3" stroke-width="1.3"/>
<line x1="715.2" y1="392.6" x2="715" y2="456.6" stroke-width="1.3"/>
<line x1="774.6" y1="346" x2="775" y2="457.5" stroke-width="1.3"/>
<line x1="775" y1="463" x2="775" y2="498" stroke-width="1.3"/>
<line x1="780.4" y1="310.5" x2="781" y2="479.6" stroke-width="1.3"/>
<line x1="794.3" y1="310.5" x2="795" y2="498" stroke-width="1.3"/>
<line x1="824" y1="392.4" x2="824" y2="487.4" stroke-width="1.3"/>
<path d="M826.2 401.1 L824 392.4 L821.8 401.1" stroke-width="1.2"/>
<line x1="755" y1="473" x2="775" y2="473" stroke-width="1.3"/>
<path d="M766.3 475.2 L775 473 L766.3 470.8" stroke-width="1.2"/>
<line x1="781" y1="473" x2="792" y2="473" stroke-width="1.3"/>
<path d="M789.7 470.8 L781 473 L789.7 475.2" stroke-width="1.2"/>
<line x1="755" y1="490.6" x2="811.6" y2="490.6" stroke-width="1.3"/>
<path d="M766.3 492.8 L775 490.6 L766.3 488.4" stroke-width="1.2"/>
<path d="M803.7 488.4 L795 490.6 L803.7 492.8" stroke-width="1.2"/>
<line x1="714.3" y1="329.2" x2="665" y2="377" stroke-width="1.3"/>
<line x1="702.4" y1="205.6" x2="671.6" y2="224" stroke-width="1.3"/>
<line x1="679.8" y1="89" x2="679.8" y2="113" stroke-width="1.6"/>
<polygon points="679.8,122.8 677,113.2 682.6,113.2" fill="#151515" stroke="none"/>
<path d="M640 430 Q630 421 620.5 408" stroke-width="1.7"/>
<polygon points="615.4,402 624.6,408.9 619.9,412.6" fill="#151515" stroke="none"/>
<path d="M711.6 115.9 C708.2 116.3 709.4 121.5 709.3 126 C709.2 129.5 708.3 130.8 706.7 131.3 C708.3 131.8 709.2 133.2 709.3 137 C709.4 142 708.2 147.5 711.6 147.9" stroke-width="1.3"/>
<circle cx="778.4" cy="300.6" r="7.7" stroke-width="1.6"/>
<circle cx="795.2" cy="300.6" r="7.7" stroke-width="1.6"/>
<line x1="886.3" y1="44" x2="891.2" y2="564" stroke-width="1.5"/>
<text class="n" transform="translate(395.10 152.80) rotate(-90)" font-size="15" text-anchor="middle">1</text>
<text class="n" transform="translate(434.50 152.70) rotate(-90)" font-size="15" text-anchor="middle">2</text>
<text class="n" x="201.16" y="70" font-size="14" textLength="16.26" lengthAdjust="spacingAndGlyphs">1.0</text>
<text class="n" x="323.00" y="70" font-size="14" textLength="34.79" lengthAdjust="spacingAndGlyphs">0.305</text>
<text class="i" x="240.50" y="103.5" font-size="14.5" textLength="7.04" lengthAdjust="spacingAndGlyphs">R</text>
<text class="n" x="252.60" y="103.3" font-size="14.5" textLength="7.62" lengthAdjust="spacingAndGlyphs">=</text>
<text class="n" x="262.70" y="103.5" font-size="14.5" textLength="23.75" lengthAdjust="spacingAndGlyphs">0.20</text>
<text class="i" x="242.20" y="135.5" font-size="14.5" textLength="6.66" lengthAdjust="spacingAndGlyphs">R</text>
<text class="n" x="253.90" y="135.3" font-size="14.5" textLength="7.30" lengthAdjust="spacingAndGlyphs">=</text>
<text class="n" x="263.70" y="135.5" font-size="14.5" textLength="25.36" lengthAdjust="spacingAndGlyphs">0.33</text>
<text class="i" x="386.20" y="90" font-size="14.5" textLength="6.95" lengthAdjust="spacingAndGlyphs">R</text>
<text class="n" x="398.90" y="89.6" font-size="14.5" textLength="8.79" lengthAdjust="spacingAndGlyphs">=</text>
<text class="n" x="409.60" y="90" font-size="14.5" textLength="33.26" lengthAdjust="spacingAndGlyphs">0.035</text>
<text class="n" transform="translate(142.40 150.00) rotate(-90)" font-size="14" textLength="25.84" lengthAdjust="spacingAndGlyphs">0.089</text>
<text class="i" transform="translate(145.00 293.90) rotate(-90)" font-size="18.5" textLength="8.12" lengthAdjust="spacingAndGlyphs">ø</text>
<text class="n" transform="translate(145.00 284.83) rotate(-90)" font-size="15" textLength="17.31" lengthAdjust="spacingAndGlyphs">1.0</text>
<text class="i" transform="translate(177.40 294.40) rotate(-90)" font-size="18.5" textLength="7.81" lengthAdjust="spacingAndGlyphs">ø</text>
<text class="n" transform="translate(177.40 285.40) rotate(-90)" font-size="15" textLength="30.98" lengthAdjust="spacingAndGlyphs">0.472</text>
<text class="i" transform="translate(439.50 295.80) rotate(-90)" font-size="18.5" textLength="8.42" lengthAdjust="spacingAndGlyphs">ø</text>
<text class="n" transform="translate(439.50 285.22) rotate(-90)" font-size="15" textLength="19.24" lengthAdjust="spacingAndGlyphs">1.6</text>
<text class="n" x="93.00" y="325.6" font-size="14" textLength="15.19" lengthAdjust="spacingAndGlyphs">66</text>
<text class="n" x="93.00" y="377" font-size="14" textLength="14.80" lengthAdjust="spacingAndGlyphs">53</text>
<text class="n" x="109.40" y="420" font-size="14" textLength="4.67" lengthAdjust="spacingAndGlyphs">1</text>
<text class="i" x="133.00" y="414" font-size="14.5" textLength="5.80" lengthAdjust="spacingAndGlyphs">s</text>
<text class="i" x="162.40" y="425.8" font-size="14.6" textLength="64.43" lengthAdjust="spacingAndGlyphs">Нумерация</text>
<text class="i" x="232.00" y="425.8" font-size="14.6" textLength="67.04" lengthAdjust="spacingAndGlyphs">выделенных</text>
<text class="i" x="179.60" y="440.2" font-size="14.6" textLength="30.59" lengthAdjust="spacingAndGlyphs">точек</text>
<text class="i" x="222.40" y="440.2" font-size="14.6" textLength="46.44" lengthAdjust="spacingAndGlyphs">(узлов)</text>
<text class="n" x="293.60" y="335" font-size="14" textLength="13.61" lengthAdjust="spacingAndGlyphs">60</text>
<text class="n" x="361.00" y="277.8" font-size="14" textLength="14.80" lengthAdjust="spacingAndGlyphs">54</text>
<text class="i" x="356.20" y="318" font-size="14.5" textLength="6.42" lengthAdjust="spacingAndGlyphs">s</text>
<text class="n" x="292.00" y="371" font-size="14" textLength="14.80" lengthAdjust="spacingAndGlyphs">43</text>
<text class="n" x="295.30" y="406" font-size="14" textLength="10.15" lengthAdjust="spacingAndGlyphs">11</text>
<text class="n" x="362.40" y="402" font-size="14" textLength="13.42" lengthAdjust="spacingAndGlyphs">35</text>
<text class="n" x="373.00" y="429.8" font-size="14" textLength="12.82" lengthAdjust="spacingAndGlyphs">27</text>
<text class="n" x="337.67" y="436.2" font-size="14" textLength="11.37" lengthAdjust="spacingAndGlyphs">19</text>
<text class="n" x="329.00" y="467" font-size="14" textLength="25.20" lengthAdjust="spacingAndGlyphs">0.35</text>
<text class="n" x="356.60" y="496" font-size="14" textLength="23.61" lengthAdjust="spacingAndGlyphs">0.55</text>
<text class="i" transform="translate(395.30 385.40) rotate(-90)" font-size="17" textLength="70.62" lengthAdjust="spacingAndGlyphs">Выделенное</text>
<text class="i" transform="translate(395.80 311.00) rotate(-90)" font-size="17" textLength="71.55" lengthAdjust="spacingAndGlyphs">поперечное</text>
<text class="i" transform="translate(396.20 235.50) rotate(-90)" font-size="17" textLength="49.55" lengthAdjust="spacingAndGlyphs">сечение</text>
<text class="n" x="778.40" y="305.1" font-size="13" text-anchor="middle">1</text>
<text class="n" x="795.20" y="305.1" font-size="13" text-anchor="middle">2</text>
<text class="n" x="586.40" y="78.8" font-size="14" textLength="13.22" lengthAdjust="spacingAndGlyphs">69</text>
<text class="n" x="631.00" y="78.8" font-size="14" textLength="14.80" lengthAdjust="spacingAndGlyphs">48</text>
<text class="n" x="676.97" y="78.8" font-size="14" textLength="4.89" lengthAdjust="spacingAndGlyphs">1</text>
<text class="i" x="684.00" y="104.6" font-size="14.5" textLength="6.21" lengthAdjust="spacingAndGlyphs">s</text>
<text class="i" x="687.60" y="136" font-size="14.8" textLength="6.48" lengthAdjust="spacingAndGlyphs">b</text>
<text class="n" x="697.30" y="136.4" font-size="14.5" textLength="8.26" lengthAdjust="spacingAndGlyphs">=</text>
<text class="n" x="713.40" y="127.3" font-size="14" textLength="24.21" lengthAdjust="spacingAndGlyphs">0.05</text>
<text class="n" x="714.40" y="145.9" font-size="14" textLength="14.94" lengthAdjust="spacingAndGlyphs">0.1</text>
<text class="i" x="612.40" y="159" font-size="14.6" textLength="7.10" lengthAdjust="spacingAndGlyphs">b</text>
<text class="n" x="677.60" y="174" font-size="14" textLength="7.01" lengthAdjust="spacingAndGlyphs">3</text>
<text class="n" x="629.00" y="229.2" font-size="14" textLength="15.19" lengthAdjust="spacingAndGlyphs">45</text>
<text class="i" x="702.40" y="191.8" font-size="14.6" textLength="63.43" lengthAdjust="spacingAndGlyphs">Нумерация</text>
<text class="i" x="771.00" y="191.8" font-size="14.6" textLength="70.41" lengthAdjust="spacingAndGlyphs">выделенных</text>
<text class="i" x="724.40" y="207" font-size="14.6" textLength="35.07" lengthAdjust="spacingAndGlyphs">точек</text>
<text class="i" x="767.00" y="207" font-size="14.6" textLength="46.24" lengthAdjust="spacingAndGlyphs">(узлов)</text>
<text class="n" x="588.00" y="265" font-size="14" textLength="13.02" lengthAdjust="spacingAndGlyphs">65</text>
<text class="i" x="725.00" y="274.8" font-size="14.6" textLength="69.09" lengthAdjust="spacingAndGlyphs">Выделенное</text>
<text class="i" x="799.60" y="274.8" font-size="14.6" textLength="63.89" lengthAdjust="spacingAndGlyphs">поперечное</text>
<text class="i" x="767.40" y="287.2" font-size="14.6" textLength="45.30" lengthAdjust="spacingAndGlyphs">сечение</text>
<text class="n" transform="translate(505.00 285.50) rotate(-90)" font-size="14.5" textLength="18.56" lengthAdjust="spacingAndGlyphs">4.0</text>
<text class="n" x="589.00" y="337.8" font-size="14" textLength="10.26" lengthAdjust="spacingAndGlyphs">61</text>
<text class="n" x="631.60" y="338" font-size="14" textLength="14.40" lengthAdjust="spacingAndGlyphs">40</text>
<text class="n" x="679.00" y="338" font-size="14" textLength="5.45" lengthAdjust="spacingAndGlyphs">9</text>
<text class="i" x="696.20" y="325.7" font-size="14.5" textLength="6.76" lengthAdjust="spacingAndGlyphs">R</text>
<text class="n" x="707.00" y="325.3" font-size="14.5" textLength="8.68" lengthAdjust="spacingAndGlyphs">=</text>
<text class="n" x="717.20" y="325.7" font-size="14.5" textLength="16.15" lengthAdjust="spacingAndGlyphs">0.5</text>
<text class="n" x="737.70" y="336.5" font-size="14" textLength="11.54" lengthAdjust="spacingAndGlyphs">21</text>
<text class="n" transform="translate(532.00 400.36) rotate(-90)" font-size="14.5" textLength="17.42" lengthAdjust="spacingAndGlyphs">1.0</text>
<text class="i" x="632.00" y="418" font-size="14.5" textLength="6.63" lengthAdjust="spacingAndGlyphs">s</text>
<text class="n" x="650.00" y="463" font-size="14" textLength="13.61" lengthAdjust="spacingAndGlyphs">49</text>
<text class="n" x="728.00" y="477" font-size="14" textLength="24.81" lengthAdjust="spacingAndGlyphs">0.03</text>
<text class="n" x="730.00" y="495" font-size="14" textLength="22.82" lengthAdjust="spacingAndGlyphs">0.15</text>
<text class="i" transform="translate(819.80 459.80) rotate(-90)" font-size="18.5" textLength="7.70" lengthAdjust="spacingAndGlyphs">ø</text>
<text class="n" transform="translate(819.80 447.52) rotate(-90)" font-size="14.5" textLength="14.57" lengthAdjust="spacingAndGlyphs">1.0</text>
<text class="sbi" x="217.90" y="530.8" font-size="19" textLength="7.98" lengthAdjust="spacingAndGlyphs">а</text>
<text class="si" x="674.70" y="530.6" font-size="20" textLength="7.77" lengthAdjust="spacingAndGlyphs">б</text>
<text class="s" transform="translate(198.00 558.70) rotate(-0.4)" font-size="14" textLength="24.08" lengthAdjust="spacingAndGlyphs">Рис.</text>
<text class="s" transform="translate(232.42 558.47) rotate(-0.4)" font-size="14" textLength="33.18" lengthAdjust="spacingAndGlyphs">13.3.</text>
<text class="s" transform="translate(274.00 558.18) rotate(-0.4)" font-size="14" textLength="4.88" lengthAdjust="spacingAndGlyphs"><tspan class="si">а</tspan></text>
<text class="s" transform="translate(287.45 558.09) rotate(-0.4)" font-size="14" textLength="11.90" lengthAdjust="spacingAndGlyphs">—</text>
<text class="s" transform="translate(307.00 557.96) rotate(-0.4)" font-size="14" textLength="36.16" lengthAdjust="spacingAndGlyphs">схема</text>
<text class="s" transform="translate(351.00 557.66) rotate(-0.4)" font-size="14" textLength="82.80" lengthAdjust="spacingAndGlyphs">аксиального</text>
<text class="s" transform="translate(442.00 557.04) rotate(-0.4)" font-size="14" textLength="70.37" lengthAdjust="spacingAndGlyphs">заборника;</text>
<text class="s" transform="translate(521.60 556.50) rotate(-0.4)" font-size="14" textLength="5.90" lengthAdjust="spacingAndGlyphs"><tspan class="si">б</tspan></text>
<text class="s" transform="translate(535.90 556.40) rotate(-0.4)" font-size="14" textLength="12.60" lengthAdjust="spacingAndGlyphs">—</text>
<text class="s" transform="translate(555.20 556.27) rotate(-0.4)" font-size="14" textLength="33.82" lengthAdjust="spacingAndGlyphs">схема</text>
<text class="s" transform="translate(597.90 555.98) rotate(-0.4)" font-size="14" textLength="82.10" lengthAdjust="spacingAndGlyphs">радиального</text>
<text class="s" transform="translate(688.20 555.37) rotate(-0.4)" font-size="14" textLength="64.30" lengthAdjust="spacingAndGlyphs">заборника.</text>
<text class="si thin" transform="translate(897.60 246.60) rotate(89.3)" font-size="13.5" textLength="95.56" lengthAdjust="spacingAndGlyphs">13.3. Примеры</text>
<text class="n" transform="translate(900.60 544.40) rotate(90)" font-size="13.5" textLength="22.00" lengthAdjust="spacingAndGlyphs">377</text>
</svg>
</body></html>
